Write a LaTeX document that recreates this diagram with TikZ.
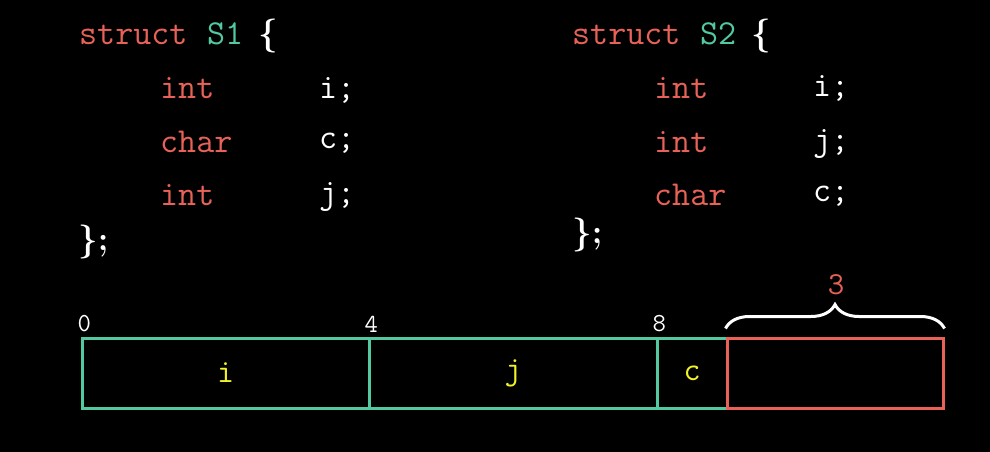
\documentclass[tikz,border=0pt]{standalone}
\usetikzlibrary{decorations.pathreplacing}
\definecolor{kwred}{RGB}{232,98,88}
\definecolor{tealgr}{RGB}{82,201,160}
\definecolor{fieldyel}{RGB}{242,242,40}

\begin{document}
\begin{tikzpicture}[x=1pt, y=-1pt,
		code_style/.style={anchor=base west, inner sep=0pt, text=white, font=\ttfamily\fontsize{35}{35}\selectfont},
		kw_style/.style={code_style, text=kwred},
		name_style/.style={code_style, text=tealgr},
		brace_style/.style={code_style, font=\bfseries\fontsize{34}{34}\selectfont},
		cell_style/.style={draw=tealgr, line width=3pt, minimum height=70pt, inner sep=0pt, text=fieldyel, font=\ttfamily\fontsize{33}{33}\selectfont},
		pad_style/.style={cell_style, draw=kwred},
		offset_style/.style={anchor=south west, inner sep=0pt, text=white, font=\ttfamily\fontsize{26}{26}\selectfont}]
		
		\fill[black] (0,0) rectangle (990,452);
		
		% struct S1
		\node[kw_style] (s1kw) at (79,45) {struct};
		\node[name_style] (s1name) at (207,45) {S1};
		\node[brace_style] (s1open) at (258,45) {\{};
		\node[kw_style] (s1t1) at (160,98) {int};
		\node[code_style] (s1f1) at (319,98) {i;};
		\node[kw_style] (s1t2) at (160,152) {char};
		\node[code_style] (s1f2) at (319,148) {c;};
		\node[kw_style] (s1t3) at (160,205) {int};
		\node[code_style] (s1f3) at (319,203) {j;};
		\node[brace_style] (s1close) at (78,250) {\};};
		
		% struct S2
		\node[kw_style] (s2kw) at (572,45) {struct};
		\node[name_style] (s2name) at (700,45) {S2};
		\node[brace_style] (s2open) at (751,45) {\{};
		\node[kw_style] (s2t1) at (654,98) {int};
		\node[code_style] (s2f1) at (813,96) {i;};
		\node[kw_style] (s2t2) at (654,152) {int};
		\node[code_style] (s2f2) at (813,150) {j;};
		\node[kw_style] (s2t3) at (654,205) {char};
		\node[code_style] (s2f3) at (813,201) {c;};
		\node[brace_style] (s2close) at (572,243) {\};};
		
		% memory layout of S1
		\node[cell_style, minimum width=287pt] (ci) at (225.5,373) {i};
		\node[cell_style, minimum width=288pt] (cj) at (513,373) {j};
		\node[cell_style, minimum width=70pt] (cc) at (692,373) {c};
		\node[pad_style, minimum width=216pt] (cp) at (835,373) {};
		
		\node[offset_style] (o0) at ([xshift=-3pt, yshift=4pt]ci.north west) {0};
		\node[offset_style] (o4) at ([xshift=-3pt, yshift=4pt]cj.north west) {4};
		\node[offset_style] (o8) at ([xshift=-3pt, yshift=4pt]cc.north west) {8};
		
		\draw[white, line width=3pt, decorate, decoration={brace, amplitude=24pt}]
			([yshift=8pt]cp.north west) -- ([yshift=8pt]cp.north east);
		\node[text=kwred, font=\ttfamily\fontsize{32}{32}\selectfont] (gap) at (836,285) {3};
		
\end{tikzpicture}
\end{document}
